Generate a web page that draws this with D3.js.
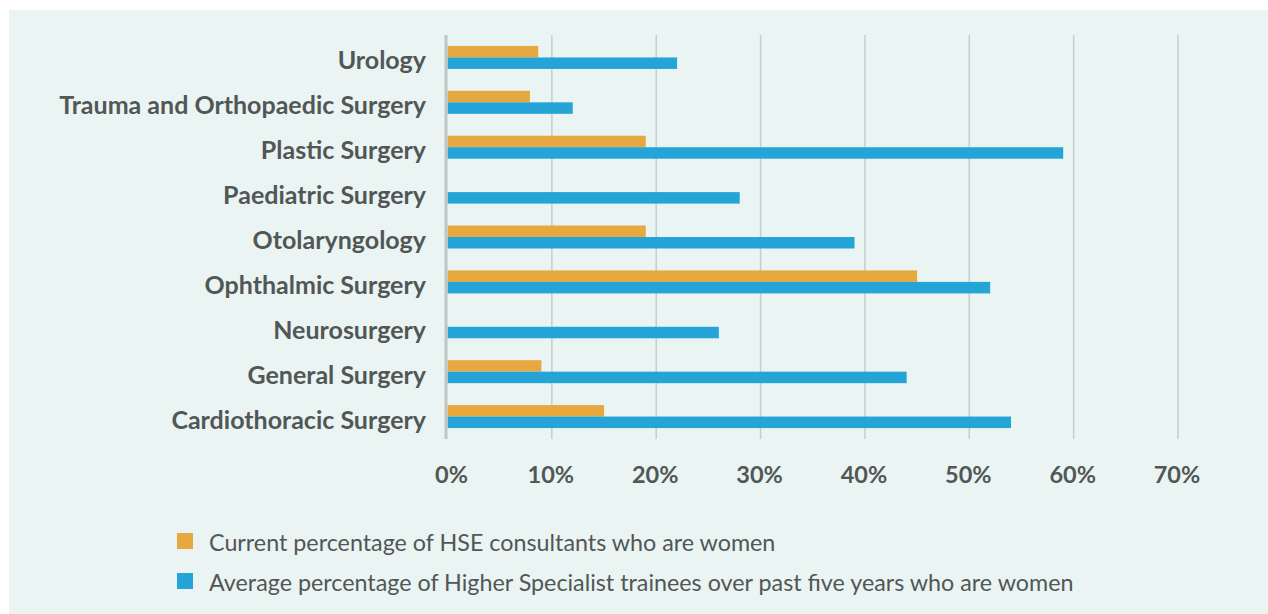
<!DOCTYPE html>
<html>
<head>
<meta charset="utf-8">
<script src="https://cdn.jsdelivr.net/npm/d3@7"></script>
<style>
  html, body { margin: 0; padding: 0; background: #ffffff; }
  svg { display: block; }
  text { font-family: Lato, "Noto Sans", sans-serif; fill: #515757; }
</style>
</head>
<body>
<svg id="chart" width="1268" height="614" viewBox="0 0 1268 614"></svg>
<script>
// specialties, top to bottom
const specialties = [
  "Urology",
  "Trauma and Orthopaedic Surgery",
  "Plastic Surgery",
  "Paediatric Surgery",
  "Otolaryngology",
  "Ophthalmic Surgery",
  "Neurosurgery",
  "General Surgery",
  "Cardiothoracic Surgery"
]
// current % of HSE consultants who are women
const consultants = [8.7, 7.9, 19, 0, 19, 45, 0, 9, 15]
// average % of higher specialist trainees (past 5 years) who are women
const trainees = [22, 12, 59, 28, 39, 52, 26, 44, 54]
const xTicks = [0, 10, 20, 30, 40, 50, 60, 70]
const seriesNames = [
  "Current percentage of HSE consultants who are women",
  "Average percentage of Higher Specialist trainees over past five years who are women"
]
const seriesColors = ["#e8a840", "#25a4d7"]

const svg = d3.select("#chart")

svg.append("rect")
  .attr("x", 9).attr("y", 10)
  .attr("width", 1259).attr("height", 604)
  .attr("fill", "#eaf4f2")

const x = d3.scaleLinear()
  .domain([0, 70])
  .range([447.5, 1178])

const y = d3.scaleBand()
  .domain(specialties)
  .range([35, 439])

const barH = 11.5

// gridlines
svg.append("g")
  .selectAll("line")
  .data(xTicks.slice(1))
  .enter()
  .append("line")
  .attr("x1", d => x(d)).attr("x2", d => x(d))
  .attr("y1", 35).attr("y2", 439)
  .attr("stroke", "#c6cdcd")
  .attr("stroke-width", 1.5)

const rows = specialties.map((s, i) => ({name: s, c: consultants[i], t: trainees[i]}))

const barGroup = svg.append("g")
barGroup.selectAll(".cons")
  .data(rows)
  .enter()
  .append("rect")
  .attr("x", x(0))
  .attr("y", d => y(d.name) + y.bandwidth() / 2 - barH)
  .attr("width", d => x(d.c) - x(0))
  .attr("height", barH)
  .attr("fill", seriesColors[0])

barGroup.selectAll(".train")
  .data(rows)
  .enter()
  .append("rect")
  .attr("x", x(0))
  .attr("y", d => y(d.name) + y.bandwidth() / 2)
  .attr("width", d => x(d.t) - x(0))
  .attr("height", barH)
  .attr("fill", seriesColors[1])

// axis line
svg.append("line")
  .attr("x1", x(0) - 1.5).attr("x2", x(0) - 1.5)
  .attr("y1", 35).attr("y2", 439)
  .attr("stroke", "#bfc6c6")
  .attr("stroke-width", 3)

// category labels
svg.append("g")
  .selectAll("text")
  .data(specialties)
  .enter()
  .append("text")
  .attr("x", 426)
  .attr("y", d => y(d) + y.bandwidth() / 2 + 3)
  .attr("dy", "0.36em")
  .attr("text-anchor", "end")
  .style("font-size", "25px")
  .style("font-weight", "bold")
  .text(d => d)

// x tick labels
svg.append("g")
  .selectAll("text")
  .data(xTicks)
  .enter()
  .append("text")
  .attr("x", (d, i) => x(d) + (i == 0 ? 4 : -1))
  .attr("y", 483)
  .attr("text-anchor", "middle")
  .style("font-size", "23.5px")
  .style("font-weight", "bold")
  .text(d => d + "%")

// legend
const legend = svg.append("g")
  .selectAll("g")
  .data(seriesNames)
  .enter()
  .append("g")
  .attr("transform", (d, i) => `translate(177, ${533 + i * 40})`)

legend.append("rect")
  .attr("width", 16).attr("height", 16)
  .attr("fill", (d, i) => seriesColors[i])

legend.append("text")
  .attr("x", 32)
  .attr("y", 10)
  .attr("dy", "0.36em")
  .style("font-size", "23.3px")
  .text(d => d)
</script>
</body>
</html>
